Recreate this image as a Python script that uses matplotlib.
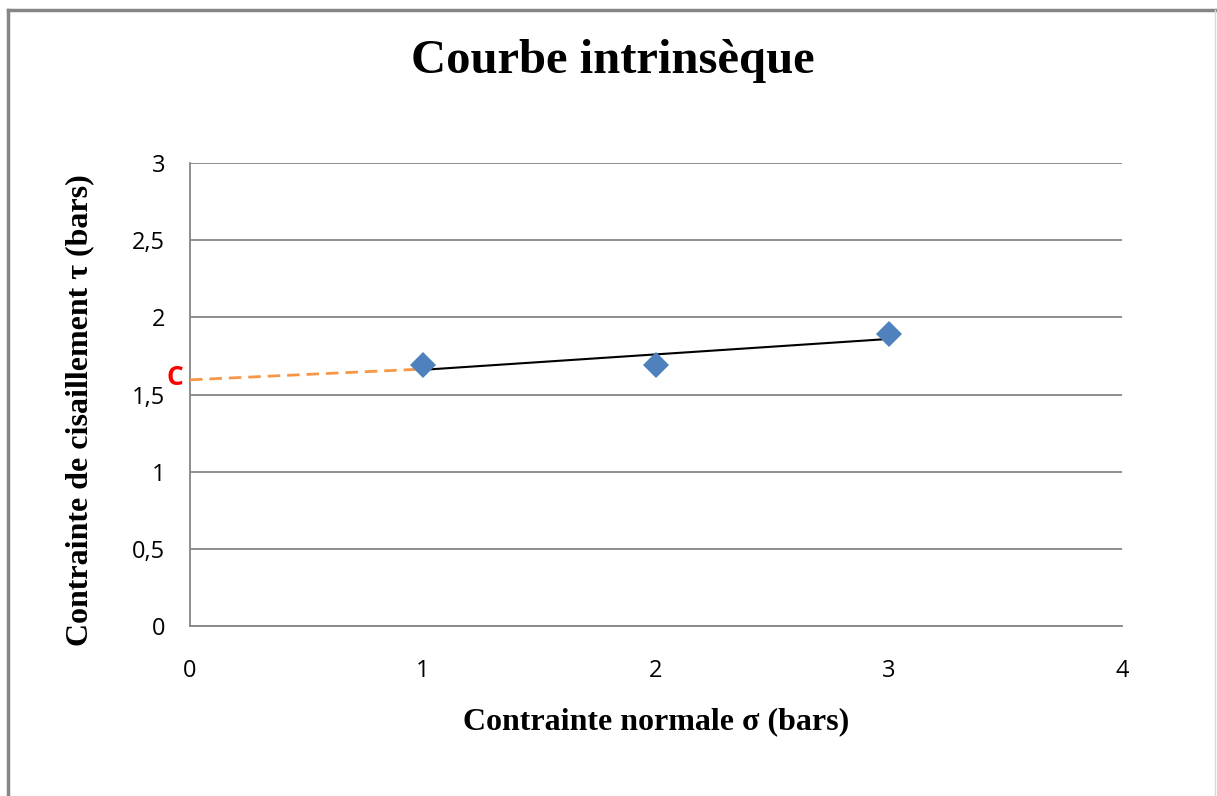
import matplotlib
matplotlib.use("Agg")
import matplotlib.pyplot as plt
from matplotlib.lines import Line2D

# data
sigma = [1, 2, 3]
tau = [1.69, 1.69, 1.89]
trend_x = [1, 3]
trend_y = [1.66, 1.86]
ext_x = [0, 1]
ext_y = [1.595, 1.665]
yticks = [0, 0.5, 1, 1.5, 2, 2.5, 3]
ytick_labels = ["0", "0,5", "1", "1,5", "2", "2,5", "3"]
xticks = [0, 1, 2, 3, 4]

W, H = 1217, 796
fig = plt.figure(figsize=(W / 100, H / 100), dpi=100)
ax = fig.add_axes([190 / W, 1 - 626 / H, (1122 - 190) / W, (626 - 163) / H])

grey = "#868686"
serif = "Liberation Serif"
sans = "Open Sans"

ax.set_xlim(0, 4)
ax.set_ylim(0, 3)
ax.set_yticks(yticks)
ax.set_yticklabels(ytick_labels)
ax.set_xticks(xticks)
ax.yaxis.grid(True, color=grey, linewidth=1.3)
ax.set_axisbelow(True)
for s in ["top", "right"]:
    ax.spines[s].set_visible(False)
for s in ["left", "bottom"]:
    ax.spines[s].set_color(grey)
    ax.spines[s].set_linewidth(1.3)
ax.tick_params(length=0, labelsize=17)
for lab in ax.get_xticklabels() + ax.get_yticklabels():
    lab.set_fontfamily(sans)
ax.tick_params(axis="y", pad=18)
ax.tick_params(axis="x", pad=24)

ax.plot(ext_x, ext_y, "--", color="#f79646", linewidth=2, dashes=(4.5, 2.5), zorder=3)
ax.plot(trend_x, trend_y, "-", color="black", linewidth=1.5, zorder=3)
ax.plot(sigma, tau, "D", color="#4f81bd", markersize=13, markeredgewidth=0, zorder=4)

ax.text(-0.028, 1.607, "C", color="red", fontsize=19, fontweight="bold",
        fontfamily=sans, ha="right", va="center")

fig.text(613 / W, 1 - 61 / H, "Courbe intrinsèque", fontsize=35, fontweight="bold",
         fontfamily=serif, ha="center", va="center")
fig.text(656 / W, 1 - 722 / H, "Contrainte normale σ (bars)", fontsize=23,
         fontweight="bold", fontfamily=serif, ha="center", va="center")
fig.text(80 / W, 1 - 410 / H, "Contrainte de cisaillement τ (bars)", fontsize=23,
         fontweight="bold", fontfamily=serif, ha="center", va="center", rotation=90)

# chart frame
fig.add_artist(Line2D([8 / W, 8 / W], [0, 1 - 10 / H], color=grey, linewidth=2.5))
fig.add_artist(Line2D([8 / W, 1], [1 - 10 / H, 1 - 10 / H], color=grey, linewidth=2.5))
fig.add_artist(Line2D([1215 / W, 1215 / W], [0, 1 - 10 / H], color="#d9d9d9", linewidth=1))

fig.savefig("out.png", dpi=100)
